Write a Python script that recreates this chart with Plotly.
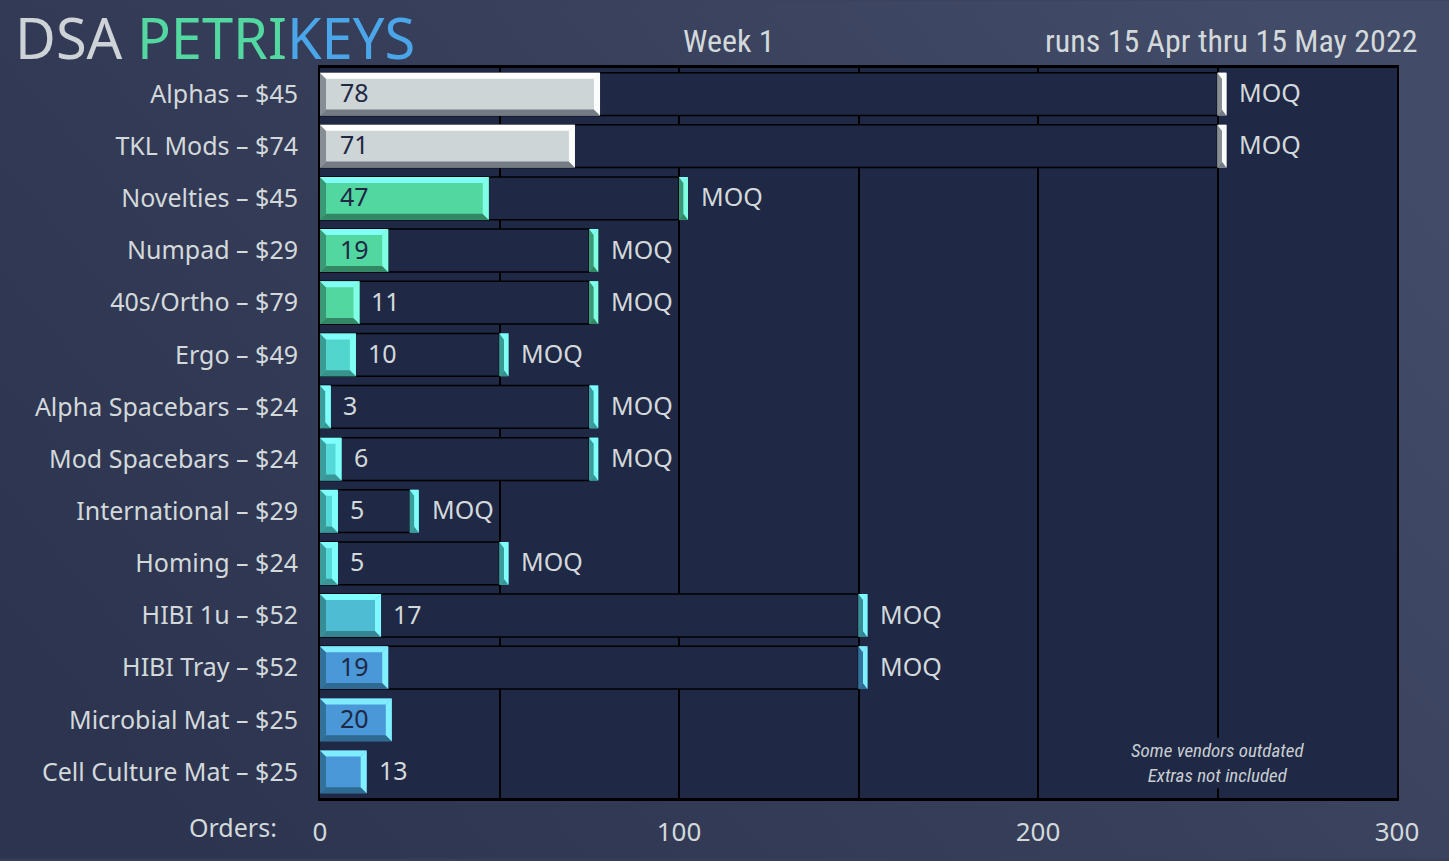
import base64
import plotly.graph_objects as go

# ---------------- data ----------------
categories = [
    "Alphas – $45", "TKL Mods – $74", "Novelties – $45", "Numpad – $29",
    "40s/Ortho – $79", "Ergo – $49", "Alpha Spacebars – $24", "Mod Spacebars – $24",
    "International – $29", "Homing – $24", "HIBI 1u – $52", "HIBI Tray – $52",
    "Microbial Mat – $25", "Cell Culture Mat – $25",
]
orders = [78, 71, 47, 19, 11, 10, 3, 6, 5, 5, 17, 19, 20, 13]
moq = [250, 250, 100, 75, 75, 50, 75, 75, 25, 50, 150, 150, None, None]
x_ticks = [0, 100, 200, 300]
moq_label = "MOQ"
title_plain = "DSA "
title_green = "PETRI"
title_blue = "KEYS"
week_text = "Week 1"
run_text = "runs 15 Apr thru 15 May 2022"
axis_label = "Orders:"
note_text = "Some vendors outdated<br>Extras not included"

# ---------------- layout constants ----------------
W, H = 1449, 861
L, R, T, B = 320, 52, 68, 61
PW = W - L - R
PH = H - T - B
X_MAX = 300
N = len(categories)
PX_X = PW / X_MAX
PX_Y = PH / N
BAR_W = 0.82
BEVEL = 6
MOQ_MARK = 2.5
NOTE_X = 250
INSIDE_MIN = 18

PLOT_BG = "#1f2844"
TEXT_LIGHT = "#d3d9db"
TEXT_DARK = "#1f2844"
LABEL_SIZE = 25

# style groups: face, top, right, bottom, left
GROUPS = {
    "gray":  ("#cdd5d6", "#ffffff", "#fbfcfc", "#747b84", "#878d94"),
    "green": ("#52d7a1", "#80fff4", "#80ffe4", "#348765", "#3b9877"),
    "ergo":  ("#52d5cc", "#80fffc", "#80fff4", "#37928c", "#3a9a94"),
    "teal":  ("#55d8d8", "#80ffff", "#80fffa", "#389898", "#3b9c9c"),
    "hibi":  ("#4ebcd2", "#80fcff", "#80f8ff", "#348591", "#378c96"),
    "blue":  ("#4a98d8", "#80ecff", "#80f0ff", "#2f6a92", "#32719a"),
}
row_group = ["gray", "gray", "green", "green", "green", "ergo", "teal", "teal",
             "teal", "teal", "hibi", "blue", "blue", "blue"]
face_colors = [GROUPS[g][0] for g in row_group]

polys = {}


def add_poly(color, pts):
    xs, ys = polys.setdefault(color, ([], []))
    for px, py in pts:
        xs.append(px)
        ys.append(py)
    xs.append(None)
    ys.append(None)


def bevel(x0, x1, yc, grp):
    _, c_top, c_right, c_bottom, c_left = GROUPS[grp]
    bx = min(BEVEL / PX_X, (x1 - x0) / 2)
    by = min(BEVEL / PX_Y, BAR_W / 2)
    yt = yc - BAR_W / 2
    yb = yc + BAR_W / 2
    add_poly(c_left, [(x0, yt), (x0 + bx, yt + by), (x0 + bx, yb - by), (x0, yb)])
    add_poly(c_bottom, [(x0, yb), (x1, yb), (x1 - bx, yb - by), (x0 + bx, yb - by)])
    add_poly(c_right, [(x1, yt), (x1 - bx, yt + by), (x1 - bx, yb - by), (x1, yb)])
    add_poly(c_top, [(x0, yt), (x1, yt), (x1 - bx, yt + by), (x0 + bx, yt + by)])


idx = list(range(N))
moq_idx = [i for i in idx if moq[i] is not None]

fig = go.Figure()

# MOQ outline boxes
fig.add_trace(go.Bar(
    orientation="h", y=moq_idx, x=[moq[i] for i in moq_idx],
    width=BAR_W, marker=dict(color=PLOT_BG, line=dict(color="#000000", width=1.5)),
    hoverinfo="skip", showlegend=False,
))
# order bars (faces)
fig.add_trace(go.Bar(
    orientation="h", y=idx, x=orders, width=BAR_W,
    marker=dict(color=face_colors, line=dict(width=0)),
    hoverinfo="skip", showlegend=False,
))
# MOQ markers (faces)
fig.add_trace(go.Bar(
    orientation="h", y=moq_idx, x=[MOQ_MARK] * len(moq_idx), base=[moq[i] for i in moq_idx],
    width=BAR_W, marker=dict(color=[face_colors[i] for i in moq_idx], line=dict(width=0)),
    hoverinfo="skip", showlegend=False,
))

for i in idx:
    bevel(0, orders[i], i, row_group[i])
    if moq[i] is not None:
        bevel(moq[i], moq[i] + MOQ_MARK, i, row_group[i])

for color, (xs, ys) in polys.items():
    fig.add_trace(go.Scatter(
        x=xs, y=ys, mode="lines", fill="toself", fillcolor=color,
        line=dict(width=0, color=color), hoverinfo="skip", showlegend=False,
    ))

FONT = "Noto Sans, Open Sans, sans-serif"
NARROW = "Liberation Sans Narrow, Roboto Condensed, DejaVu Sans Condensed, Noto Sans, sans-serif"

annotations = []
for i in idx:
    v = orders[i]
    if v >= INSIDE_MIN:
        annotations.append(dict(x=0, y=i, xref="x", yref="y", text=str(v), showarrow=False,
                                xanchor="left", xshift=18, yshift=2,
                                font=dict(family=FONT, size=LABEL_SIZE, color=TEXT_DARK)))
    else:
        annotations.append(dict(x=v, y=i, xref="x", yref="y", text=str(v), showarrow=False,
                                xanchor="left", xshift=10, yshift=2,
                                font=dict(family=FONT, size=LABEL_SIZE, color=TEXT_LIGHT)))
    if moq[i] is not None:
        annotations.append(dict(x=moq[i] + MOQ_MARK, y=i, xref="x", yref="y", text=moq_label,
                                showarrow=False, xanchor="left", xshift=11, yshift=2,
                                font=dict(family=FONT, size=LABEL_SIZE, color=TEXT_LIGHT)))


def pxx(p):
    return (p - L) / PW


def pxy(p):
    return (H - B - p) / PH


annotations += [
    dict(x=pxx(13), y=pxy(37), xref="paper", yref="paper", xanchor="left", yanchor="middle",
         showarrow=False,
         text=f"{title_plain}<span style='color:#52d8a0'>{title_green}</span>"
              f"<span style='color:#4aa6e8'>{title_blue}</span>",
         font=dict(family=FONT, size=56, color="#cdd3d6")),
    dict(x=pxx(728), y=pxy(41), xref="paper", yref="paper", xanchor="center", yanchor="middle",
         showarrow=False, text=week_text, font=dict(family=NARROW, size=32, color=TEXT_LIGHT)),
    dict(x=pxx(1419), y=pxy(41), xref="paper", yref="paper", xanchor="right", yanchor="middle",
         showarrow=False, text=run_text, font=dict(family=NARROW, size=32, color=TEXT_LIGHT)),
    dict(x=pxx(279), y=pxy(829), xref="paper", yref="paper", xanchor="right", yanchor="middle",
         showarrow=False, text=axis_label, font=dict(family=FONT, size=LABEL_SIZE, color=TEXT_LIGHT)),
    dict(x=NOTE_X, y=pxy(765), xref="x", yref="paper", xanchor="center", yanchor="middle",
         showarrow=False, text=note_text, bgcolor=PLOT_BG, align="center",
         font=dict(family=NARROW, size=19, color="#c8ced2", style="italic")),
]

svg = (f"<svg xmlns='http://www.w3.org/2000/svg' width='{W}' height='{H}' "
       f"viewBox='0 0 {W} {H}' preserveAspectRatio='none'>"
       "<defs><linearGradient id='g' x1='0' y1='0.75' x2='1' y2='0.25'>"
       "<stop offset='0' stop-color='#2c344f'/><stop offset='0.55' stop-color='#373f5b'/>"
       "<stop offset='1' stop-color='#424b67'/></linearGradient></defs>"
       f"<rect x='0' y='0' width='{W}' height='{H}' fill='url(#g)'/></svg>")
bg_src = "data:image/svg+xml;base64," + base64.b64encode(svg.encode()).decode()

fig.update_layout(
    width=W, height=H,
    margin=dict(l=L, r=R, t=T, b=B, pad=0),
    paper_bgcolor="#363e5a", plot_bgcolor=PLOT_BG,
    barmode="overlay", hovermode=False, showlegend=False,
    annotations=annotations,
    images=[dict(source=bg_src, xref="paper", yref="paper", x=-L / PW, y=1 + T / PH,
                 sizex=W / PW, sizey=H / PH, sizing="stretch", layer="below",
                 xanchor="left", yanchor="top")],
    shapes=[dict(type="rect", xref="paper", yref="paper", x0=0, x1=1, y0=0, y1=1,
                 fillcolor=PLOT_BG, line=dict(width=0), layer="below")],
    xaxis=dict(range=[0, X_MAX], tickvals=x_ticks, ticktext=[str(t) for t in x_ticks],
               showgrid=True, gridcolor="#000000", gridwidth=1.5, zeroline=False,
               minor=dict(dtick=50, showgrid=True, gridcolor="#000000", gridwidth=1.5),
               showline=True, linecolor="#000000", linewidth=2.5, mirror=True,
               ticks="outside", ticklen=9, tickcolor="rgba(0,0,0,0)",
               tickfont=dict(family=FONT, size=26, color=TEXT_LIGHT), fixedrange=True),
    yaxis=dict(range=[N - 0.5, -0.5], tickvals=idx, ticktext=categories,
               showgrid=False, zeroline=False,
               showline=True, linecolor="#000000", linewidth=2, mirror=True,
               ticks="outside", ticklen=15, tickcolor="rgba(0,0,0,0)",
               tickfont=dict(family=FONT, size=LABEL_SIZE, color=TEXT_LIGHT), fixedrange=True),
)

fig.write_html(
    "out.html",
    config={"displayModeBar": False},
    post_script=("document.body.style.margin='0';document.body.style.padding='0';"
                 "document.body.style.overflow='hidden';document.body.style.background='#303854';"),
)
